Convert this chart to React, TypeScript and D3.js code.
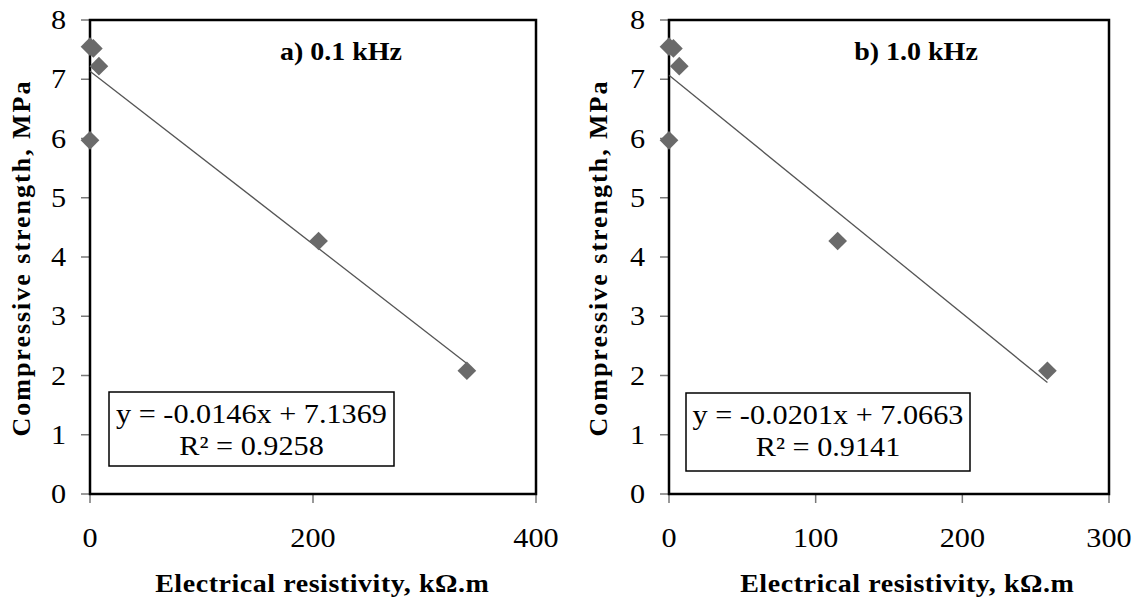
import React from "react";
import * as d3 from "d3";

const strength = [7.55, 7.52, 7.22, 5.97, 4.27, 2.08];
const resistivityA = [0, 3, 8, 0, 205, 338];
const resistivityB = [0, 3, 7, 0, 115, 258];
const xTicksA = [0, 200, 400];
const xTicksB = [0, 100, 200, 300];
const yTicks = [0, 1, 2, 3, 4, 5, 6, 7, 8];
const titles = ["a) 0.1 kHz", "b) 1.0 kHz"];
const slopes = [-0.0146, -0.0201];
const intercepts = [7.1369, 7.0663];
const eqTexts = ["y = -0.0146x + 7.1369", "y = -0.0201x + 7.0663"];
const r2Texts = ["R² = 0.9258", "R² = 0.9141"];

const FONT = "Liberation Serif";
const SX = 1.12;

type PanelProps = {
  xs: number[];
  xTicks: number[];
  xMax: number;
  left: number;
  right: number;
  title: string;
  titleX: number;
  slope: number;
  intercept: number;
  eq: string;
  r2: string;
  box: { x: number; y: number; w: number; h: number };
  yTitleX: number;
  xTitleX: number;
};

function T({ x, y, anchor = "middle", size = 27, weight = "normal", children, rotate = 0, len }: any) {
  const tr = rotate
    ? `translate(${x},${y}) rotate(${rotate})`
    : `translate(${x},${y}) scale(${SX},1)`;
  return (
    <text
      transform={tr}
      textAnchor={anchor}
      style={{ fontFamily: FONT }}
      fontSize={size}
      fontWeight={weight}
      fill="#000"
      textLength={len}
      lengthAdjust={len ? "spacing" : undefined}
    >
      {children}
    </text>
  );
}

function Panel(p: PanelProps) {
  const top = 20;
  const bottom = 494;
  const x = d3.scaleLinear().domain([0, p.xMax]).range([p.left, p.right]);
  const y = d3.scaleLinear().domain([0, 8]).range([bottom, top]);
  const diamond = d3.symbol().type(d3.symbolSquare).size(175)();
  const xMin = d3.min(p.xs) as number;
  const xMaxData = d3.max(p.xs) as number;
  const line = d3.line<number>().x((d) => x(d)).y((d) => y(p.slope * d + p.intercept));
  return (
    <g>
      {yTicks.map((t) => (
        <line key={"yt" + t} x1={p.left - 9} x2={p.left} y1={y(t)} y2={y(t)} stroke="#777" strokeWidth={1.5} />
      ))}
      {p.xTicks.map((t) => (
        <line key={"xt" + t} x1={x(t)} x2={x(t)} y1={bottom} y2={bottom + 9} stroke="#777" strokeWidth={1.5} />
      ))}
      <rect x={p.left} y={top} width={p.right - p.left} height={bottom - top} fill="none" stroke="#000" strokeWidth={2.5} />
      {yTicks.map((t) => (
        <T key={"yl" + t} x={p.left - 24} y={y(t) + 9} anchor="end">
          {t}
        </T>
      ))}
      {p.xTicks.map((t) => (
        <T key={"xl" + t} x={x(t)} y={547}>
          {t}
        </T>
      ))}
      <path d={line([xMin, xMaxData]) || ""} fill="none" stroke="#555" strokeWidth={1.3} />
      {p.xs.map((v, i) => (
        <path
          key={"pt" + i}
          d={diamond || ""}
          transform={`translate(${x(v)},${y(strength[i])}) rotate(45)`}
          fill="#6a6a6a"
        />
      ))}
      <T x={p.titleX} y={60} weight="bold" size={25}>
        {p.title}
      </T>
      <rect x={p.box.x} y={p.box.y} width={p.box.w} height={p.box.h} fill="#fff" stroke="#000" strokeWidth={1.5} />
      <T x={p.box.x + p.box.w / 2} y={p.box.y + 31}>
        {p.eq}
      </T>
      <T x={p.box.x + p.box.w / 2} y={p.box.y + 63}>
        {p.r2}
      </T>
      <T x={p.yTitleX} y={259} rotate={-90} weight="bold" size={26} len={355}>
        Compressive strength, MPa
      </T>
      <T x={p.xTitleX} y={592} weight="bold" size={25} len={298}>
        Electrical resistivity, kΩ.m
      </T>
    </g>
  );
}

export default function App() {
  return (
    <svg width={1137} height={607} style={{ position: "absolute", left: 0, top: 0, background: "#fff" }}>
      <rect x={0} y={0} width={1137} height={607} fill="#fff" />
      <Panel
        xs={resistivityA}
        xTicks={xTicksA}
        xMax={400}
        left={90}
        right={536}
        title={titles[0]}
        titleX={341}
        slope={slopes[0]}
        intercept={intercepts[0]}
        eq={eqTexts[0]}
        r2={r2Texts[0]}
        box={{ x: 109, y: 392, w: 285, h: 74 }}
        yTitleX={30}
        xTitleX={322}
      />
      <Panel
        xs={resistivityB}
        xTicks={xTicksB}
        xMax={300}
        left={669}
        right={1109}
        title={titles[1]}
        titleX={916}
        slope={slopes[1]}
        intercept={intercepts[1]}
        eq={eqTexts[1]}
        r2={r2Texts[1]}
        box={{ x: 686, y: 393, w: 284, h: 78 }}
        yTitleX={607}
        xTitleX={907}
      />
    </svg>
  );
}
